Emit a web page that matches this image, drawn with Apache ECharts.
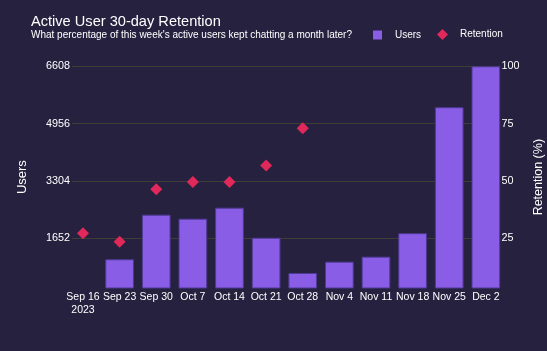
<!DOCTYPE html>
<html>
<head>
<meta charset="utf-8">
<script src="https://cdn.jsdelivr.net/npm/echarts@6/dist/echarts.min.js"></script>
<style>
  html, body { margin: 0; padding: 0; background: #272140; }
  #chart { width: 547px; height: 351px; }
</style>
</head>
<body>
<div id="chart"></div>
<script>
// weekly cohorts
var weeks = ['Sep 16\n2023', 'Sep 23', 'Sep 30', 'Oct 7', 'Oct 14', 'Oct 21', 'Oct 28',
  'Nov 4', 'Nov 11', 'Nov 18', 'Nov 25', 'Dec 2'];
// active users per week (no bar for Sep 16)
var users = [null, 1050, 2335, 2220, 2535, 1670, 655, 980, 1125, 1800, 5430, 6608];
// 30-day retention (%), only the older cohorts have it
var retention = [27.2, 23.5, 46.4, 49.6, 49.6, 56.8, 73.0, null, null, null, null, null];
var userTicks = [1652, 3304, 4956, 6608];
var retentionTicks = [25, 50, 75, 100];

var font = 'Liberation Sans, Arial, sans-serif';
var chart = echarts.init(document.getElementById('chart'));

chart.setOption({
  backgroundColor: '#272140',
  animation: false,
  textStyle: { fontFamily: font },
  title: {
    text: 'Active User 30-day Retention',
    subtext: "What percentage of this week's active users kept chatting a month later?",
    left: 26,
    top: 9,
    itemGap: 1,
    textStyle: { color: '#fff', fontSize: 14.6, fontWeight: 'normal', fontFamily: font },
    subtextStyle: { color: '#fff', fontSize: 10, fontFamily: font }
  },
  legend: [{
    data: ['Users'],
    left: 368,
    top: 25,
    icon: 'rect',
    itemWidth: 9,
    itemHeight: 9,
    itemStyle: { borderWidth: 0 },
    textStyle: { color: '#fff', fontSize: 10, padding: [0, 0, 0, 8] }
  }, {
    data: ['Retention'],
    left: 432,
    top: 24,
    icon: 'diamond',
    itemWidth: 11,
    itemHeight: 11,
    textStyle: { color: '#fff', fontSize: 10, padding: [0, 0, 0, 7] }
  }],
  grid: { left: 72, right: 46.5, top: 66.3, bottom: 63, containLabel: false, outerBoundsMode: 'none' },
  xAxis: {
    type: 'value',
    min: -0.3,
    max: 11.4,
    axisLine: { show: false },
    axisTick: { show: false },
    splitLine: { show: false },
    axisLabel: {
      customValues: weeks.map(function (w, i) { return i; }),
      formatter: function (v) { return weeks[v]; },
      color: '#fff',
      fontSize: 10.5,
      lineHeight: 13,
      margin: 3
    }
  },
  yAxis: [{
    type: 'value',
    name: 'Users',
    nameLocation: 'middle',
    nameGap: 43,
    nameTextStyle: { color: '#fff', fontSize: 13 },
    min: 222,
    max: 6608,
    axisLine: { show: false },
    axisTick: { show: false, customValues: userTicks },
    axisLabel: {
      customValues: userTicks,
      formatter: function (v) { return String(v); },
      color: '#fff',
      fontSize: 10.8,
      margin: 2
    },
    splitLine: { show: true, lineStyle: { color: '#403d34', width: 1 } }
  }, {
    type: 'value',
    name: 'Retention (%)',
    nameLocation: 'middle',
    nameGap: 32,
    nameTextStyle: { color: '#fff', fontSize: 12.5 },
    position: 'right',
    min: 3.36,
    max: 100,
    axisLine: { show: false },
    axisTick: { show: false, customValues: retentionTicks },
    axisLabel: { customValues: retentionTicks, color: '#fff', fontSize: 10.8, margin: 1 },
    splitLine: { show: false }
  }],
  series: [{
    name: 'Users',
    type: 'bar',
    yAxisIndex: 0,
    barWidth: 28.7,
    itemStyle: { color: '#8a5de6', borderColor: '#4d3a91', borderWidth: 1 },
    data: users.map(function (v, i) { return [i, v]; })
  }, {
    name: 'Retention',
    type: 'scatter',
    yAxisIndex: 1,
    symbol: 'diamond',
    symbolSize: 12,
    itemStyle: { color: '#e0285a', opacity: 1 },
    data: retention.map(function (v, i) { return [i, v]; })
  }]
});
</script>
</body>
</html>
